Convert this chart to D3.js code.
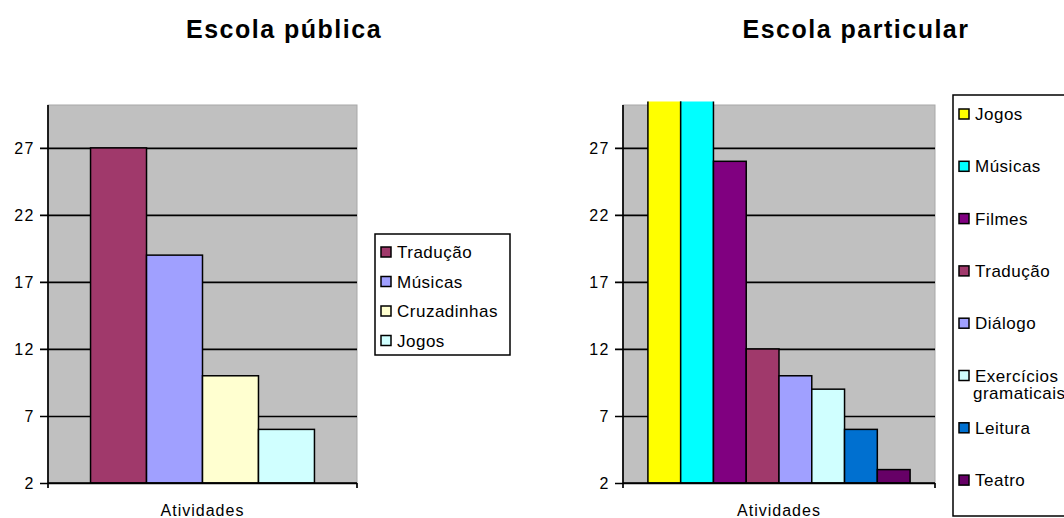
<!DOCTYPE html>
<html>
<head>
<meta charset="utf-8">
<script src="https://cdn.jsdelivr.net/npm/d3@7"></script>
<style>
  body { margin: 0; background: #fff; }
  svg text { font-family: "Liberation Sans", Arial, sans-serif; }
</style>
</head>
<body>
<svg id="svg" width="1064" height="518"></svg>
<script>
// data
var yTicks = [2, 7, 12, 17, 22, 27];

var publicTitle = 'Escola pública';
var publicCategories = ['Tradução', 'Músicas', 'Cruzadinhas', 'Jogos'];
var publicValues = [27, 19, 10, 6];
var publicColors = ['#a0396b', '#a0a0ff', '#ffffd0', '#d0ffff'];

var privateTitle = 'Escola particular';
var privateCategories = ['Jogos', 'Músicas', 'Filmes', 'Tradução', 'Diálogo', 'Exercícios gramaticais', 'Leitura', 'Teatro'];
// the first two bars run past the top of the axis
var privateValues = [31, 31, 26, 12, 10, 9, 6, 3];
var privateColors = ['#ffff00', '#00ffff', '#800080', '#a0396b', '#a0a0ff', '#d0ffff', '#0070d0', '#660066'];

var xLabel = 'Atividades';

var svg = d3.select('#svg');

function DrawChart(opt) {
  var g = svg.append('g');
  var y = d3.scaleLinear().domain([2, 30.2]).range([483, 105]);
  var x = d3.scaleBand().domain(opt.categories).range([opt.left, opt.right])
    .paddingInner(0).paddingOuter(0.76);

  g.append('rect')
    .attr('x', opt.left).attr('y', 105)
    .attr('width', opt.right - opt.left).attr('height', 378)
    .attr('fill', '#c0c0c0').attr('stroke', '#a8a8a8').attr('stroke-width', 1);

  // gridlines + left ticks
  g.append('g')
    .attr('transform', 'translate(' + opt.left + ',0)')
    .call(d3.axisLeft(y).tickValues(yTicks).tickSize(-(opt.right - opt.left)).tickPadding(13))
    .call(function (a) {
      a.select('.domain').remove();
      a.selectAll('.tick line').attr('stroke', '#000').attr('stroke-width', 1.7).attr('x1', -8);
      a.selectAll('.tick text').attr('font-size', 16).attr('letter-spacing', 1.5).attr('fill', '#000');
    });

  var clipId = 'clip' + opt.id;
  g.append('clipPath').attr('id', clipId).append('rect')
    .attr('x', opt.left).attr('y', 101.5).attr('width', opt.right - opt.left).attr('height', 400);

  g.append('g').attr('clip-path', 'url(#' + clipId + ')')
    .selectAll('rect').data(opt.values).enter().append('rect')
    .attr('x', function (d, i) { return x(opt.categories[i]); })
    .attr('y', function (d) { return y(d); })
    .attr('width', x.bandwidth())
    .attr('height', function (d) { return y(2) - y(d); })
    .attr('fill', function (d, i) { return opt.colors[i]; })
    .attr('stroke', '#000').attr('stroke-width', 1.5);

  // axis lines
  g.append('line').attr('x1', opt.left).attr('x2', opt.left).attr('y1', 105).attr('y2', 488)
    .attr('stroke', '#000').attr('stroke-width', 1.7);
  g.append('line').attr('x1', opt.left).attr('x2', opt.right).attr('y1', 483).attr('y2', 483)
    .attr('stroke', '#000').attr('stroke-width', 1.7);
  g.append('line').attr('x1', opt.right).attr('x2', opt.right).attr('y1', 483).attr('y2', 488)
    .attr('stroke', '#000').attr('stroke-width', 1.7);

  g.append('text')
    .attr('x', (opt.left + opt.right) / 2).attr('y', 516)
    .attr('text-anchor', 'middle').attr('font-size', 16).attr('letter-spacing', 1).attr('fill', '#000')
    .text(xLabel);

  g.append('text')
    .attr('x', opt.titleX).attr('y', 38)
    .attr('text-anchor', 'middle').attr('font-size', 25).attr('letter-spacing', 1.5)
    .attr('font-weight', 'bold').attr('fill', '#000')
    .text(opt.title);

  // legend
  var lg = g.append('g');
  lg.append('rect')
    .attr('x', opt.legend.x).attr('y', opt.legend.y)
    .attr('width', opt.legend.w).attr('height', opt.legend.h)
    .attr('fill', '#fff').attr('stroke', '#000').attr('stroke-width', 1.5);

  var item = lg.selectAll('g.item').data(opt.categories).enter().append('g')
    .attr('class', 'item')
    .attr('transform', function (d, i) {
      return 'translate(' + (opt.legend.x + 6) + ',' + (opt.legend.first + i * opt.legend.step) + ')';
    });
  item.append('rect')
    .attr('x', 0).attr('y', -5).attr('width', 10).attr('height', 10)
    .attr('fill', function (d, i) { return opt.colors[i]; })
    .attr('stroke', '#000').attr('stroke-width', 1.5);
  item.each(function (d) {
    var words = opt.wrap && d.indexOf(' ') > 0 ? d.split(' ') : [d];
    var t = d3.select(this).append('text')
      .attr('y', 6).attr('font-size', 17).attr('letter-spacing', 0.5).attr('fill', '#000');
    words.forEach(function (w, k) {
      t.append('tspan').attr('x', k ? 14 : 16).attr('dy', k ? 17 : 0).text(w);
    });
  });
}

DrawChart({
  id: 'pub', title: publicTitle, titleX: 284,
  categories: publicCategories, values: publicValues, colors: publicColors,
  left: 48, right: 357,
  legend: { x: 375, y: 234, w: 135, h: 121, first: 252, step: 29.5 }
});

DrawChart({
  id: 'priv', title: privateTitle, titleX: 856,
  categories: privateCategories, values: privateValues, colors: privateColors,
  left: 623, right: 935, wrap: true,
  legend: { x: 953, y: 95, w: 130, h: 421, first: 114, step: 52.3 }
});
</script>
</body>
</html>
